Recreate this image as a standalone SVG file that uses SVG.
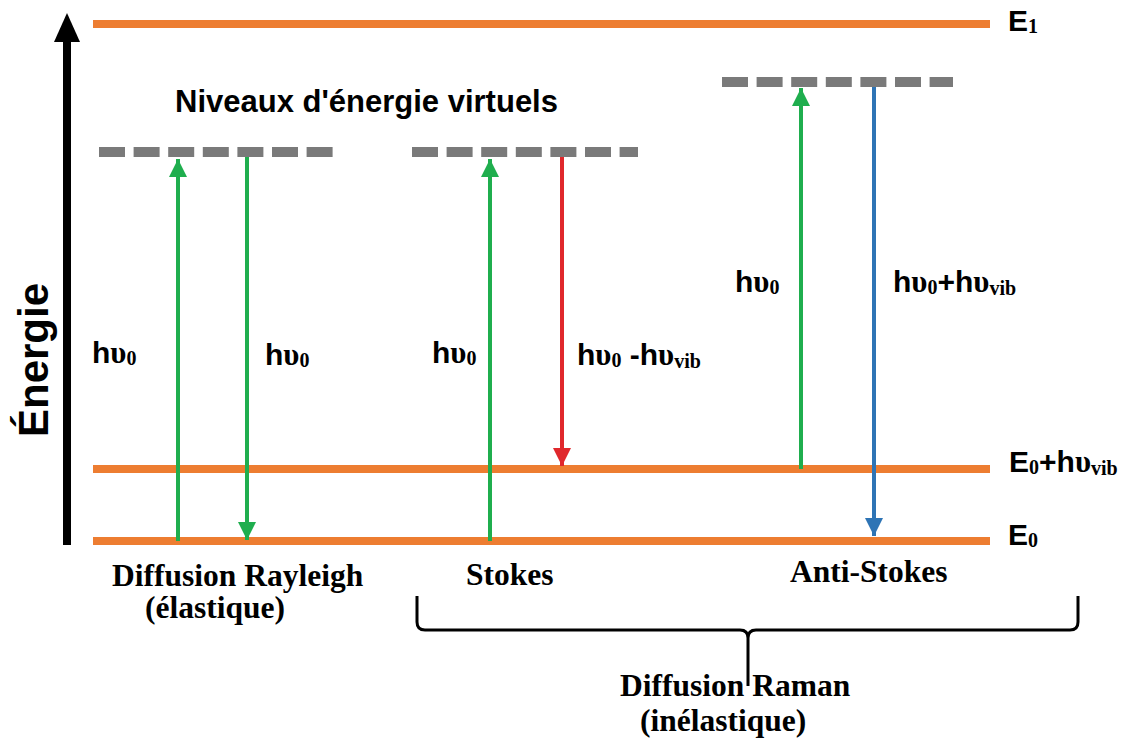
<svg xmlns="http://www.w3.org/2000/svg" width="1126" height="743" viewBox="0 0 1126 743">
<style>
.lvl{stroke:#ED7D31;stroke-width:8;fill:none}
.virt{stroke:#7A7A7A;stroke-width:10;stroke-dasharray:26 8.6;fill:none}
.g{stroke:#1FAE4E;stroke-width:4;fill:none}
.r{stroke:#E0282C;stroke-width:4;fill:none}
.b{stroke:#2E74B5;stroke-width:4;fill:none}
.sans{font-family:"Liberation Sans",Arial,sans-serif;font-weight:bold;fill:#000}
.serif{font-family:"Liberation Serif","Times New Roman",serif;font-weight:bold;fill:#000}
.lbl{font-size:30px}
.u{font-family:"Liberation Serif","Times New Roman",serif;font-weight:bold;font-size:31px}
.sub{font-family:"Liberation Serif","Times New Roman",serif;font-weight:bold;font-size:20px}
.cap{font-family:"Liberation Serif","Times New Roman",serif;font-weight:bold;font-size:31.5px;fill:#000}
</style>
<defs>
<marker id="ag" viewBox="0 0 18 18" refX="18" refY="9" markerWidth="18" markerHeight="18" markerUnits="userSpaceOnUse" orient="auto"><path d="M0,0 L18,9 L0,18 z" fill="#1FAE4E"/></marker>
<marker id="ar" viewBox="0 0 18 18" refX="18" refY="9" markerWidth="18" markerHeight="18" markerUnits="userSpaceOnUse" orient="auto"><path d="M0,0 L18,9 L0,18 z" fill="#E0282C"/></marker>
<marker id="ab" viewBox="0 0 18 18" refX="18" refY="9" markerWidth="18" markerHeight="18" markerUnits="userSpaceOnUse" orient="auto"><path d="M0,0 L18,9 L0,18 z" fill="#2E74B5"/></marker>
</defs>
<rect width="1126" height="743" fill="#fff"/>

<g id="axis">
<line x1="67" y1="545" x2="67" y2="38" stroke="#000" stroke-width="8"/>
<path d="M67,13 L80,42 L54,42 z" fill="#000"/>
<text class="sans" font-size="42" transform="translate(48,437) rotate(-90)">Énergie</text>
</g>

<g id="level-E1">
<line class="lvl" x1="93" y1="24" x2="990" y2="24"/>
<text class="sans" x="1008" y="31" font-size="30">E<tspan class="sub" dy="2">1</tspan></text>
</g>
<g id="level-E0hv">
<line class="lvl" x1="93" y1="469" x2="990" y2="469"/>
<text class="sans" x="1009" y="472" font-size="30">E<tspan class="sub" dy="2">0</tspan><tspan dy="-2">+h</tspan><tspan class="u">υ</tspan><tspan class="sub" dy="3">vib</tspan></text>
</g>
<g id="level-E0">
<line class="lvl" x1="93" y1="541" x2="990" y2="541"/>
<text class="sans" x="1008" y="545" font-size="30">E<tspan class="sub" dy="2">0</tspan></text>
</g>

<g id="virtual-levels">
<text class="sans" x="175" y="112" font-size="31">Niveaux d'énergie virtuels</text>
<line class="virt" x1="99" y1="152" x2="333" y2="152"/>
<line class="virt" x1="412" y1="152" x2="638" y2="152"/>
<line class="virt" x1="722" y1="82" x2="953" y2="82"/>
</g>

<g id="connectors">
<line class="g" x1="178" y1="541" x2="178" y2="159" marker-end="url(#ag)"/>
<line class="g" x1="247" y1="157" x2="247" y2="540" marker-end="url(#ag)"/>
<line class="g" x1="490" y1="541" x2="490" y2="159" marker-end="url(#ag)"/>
<line class="r" x1="562" y1="157" x2="562" y2="466" marker-end="url(#ar)"/>
<line class="g" x1="801" y1="469" x2="801" y2="88" marker-end="url(#ag)"/>
<line class="b" x1="874" y1="87" x2="874" y2="536" marker-end="url(#ab)"/>
</g>

<g id="labels">
<text class="sans lbl" x="92" y="363">h<tspan class="u">υ</tspan><tspan class="sub" dy="2">0</tspan></text>
<text class="sans lbl" x="265" y="365">h<tspan class="u">υ</tspan><tspan class="sub" dy="2">0</tspan></text>
<text class="sans lbl" x="432" y="363">h<tspan class="u">υ</tspan><tspan class="sub" dy="2">0</tspan></text>
<text class="sans lbl" x="577" y="365">h<tspan class="u">υ</tspan><tspan class="sub" dy="2">0</tspan><tspan dy="-2"> -h</tspan><tspan class="u">υ</tspan><tspan class="sub" dy="3">vib</tspan></text>
<text class="sans lbl" x="735" y="292">h<tspan class="u">υ</tspan><tspan class="sub" dy="2">0</tspan></text>
<text class="sans lbl" x="893" y="292">h<tspan class="u">υ</tspan><tspan class="sub" dy="2">0</tspan><tspan dy="-2">+h</tspan><tspan class="u">υ</tspan><tspan class="sub" dy="3">vib</tspan></text>
</g>

<g id="rayleigh">
<text class="cap" x="112" y="586">Diffusion Rayleigh</text>
<text class="cap" x="145" y="618">(élastique)</text>
</g>
<g id="stokes">
<text class="cap" x="466" y="585">Stokes</text>
</g>
<g id="anti-stokes">
<text class="cap" x="790" y="582">Anti-Stokes</text>
</g>
<g id="raman">
<path d="M417,596 L417,622 Q417,630 425,630 L740,630 Q748,630 748,638 L748,686 M1078,596 L1078,622 Q1078,630 1070,630 L756,630 Q748,630 748,638" fill="none" stroke="#000" stroke-width="3"/>
<text class="cap" x="620" y="696">Diffusion Raman</text>
<text class="cap" x="640" y="731">(inélastique)</text>
</g>
</svg>
